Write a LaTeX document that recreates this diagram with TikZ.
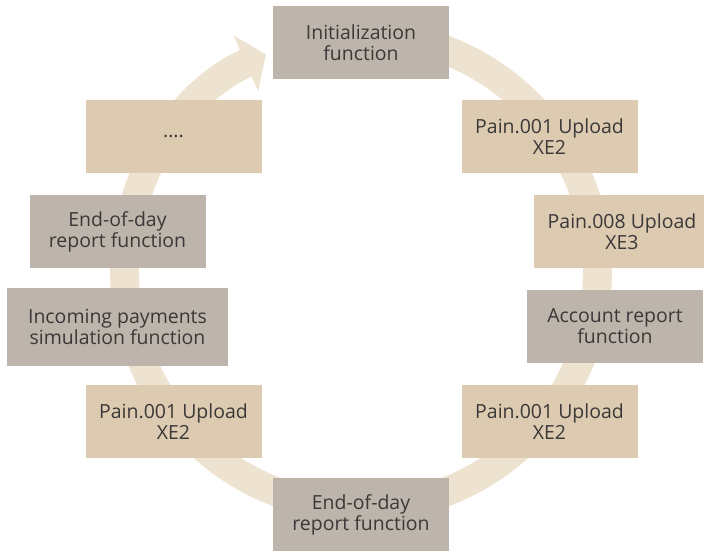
\documentclass[tikz,border=0pt]{standalone}
\usepackage{fontspec}
\setmainfont{Open Sans}
\usetikzlibrary{arrows.meta}
\definecolor{boxgrey}{RGB}{189,180,171}
\definecolor{boxtan}{RGB}{220,202,177}
\definecolor{ringtan}{RGB}{238,227,208}
\definecolor{txtgrey}{RGB}{59,56,56}
\begin{document}
\begin{tikzpicture}[x=0.75pt,y=0.75pt,
    func/.style={fill=boxgrey,text=txtgrey,align=center,inner sep=0pt,
        minimum width=132pt,minimum height=54.5pt,
        font=\fontsize{14.6}{15.75}\selectfont},
    upload/.style={func,fill=boxtan}]
    \useasboundingbox (0,0) rectangle (704,551);
    \draw[ringtan,line width=21.75pt,-{Triangle[width=45pt,length=16.5pt]}]
        (361,280) ++(85:236.5) arc[start angle=85,end angle=-246.3,radius=236.5];
    \node[func] (init) at (361,508.5) {Initialization\\function};
    \node[upload] (uptop) at (549.5,414.7) {Pain.001 Upload\\XE2};
    \node[upload] (upxe3) at (622,319.5) {Pain.008 Upload\\XE3};
    \node[func] (acct) at (615,224.5) {Account report\\function};
    \node[upload] (upright) at (549.5,129.7) {Pain.001 Upload\\XE2};
    \node[func] (eodbot) at (361,36.5) {End-of-day\\report function};
    \node[upload] (upleft) at (173.5,129.7) {Pain.001 Upload\\XE2};
    \node[func,minimum width=165.75pt,minimum height=58.5pt] (incoming) at (117.5,224) {Incoming payments\\simulation function};
    \node[func] (eodleft) at (117.5,319.5) {End-of-day\\report function};
    \node[upload] (more) at (173.5,414.7) {....};
\end{tikzpicture}
\end{document}
